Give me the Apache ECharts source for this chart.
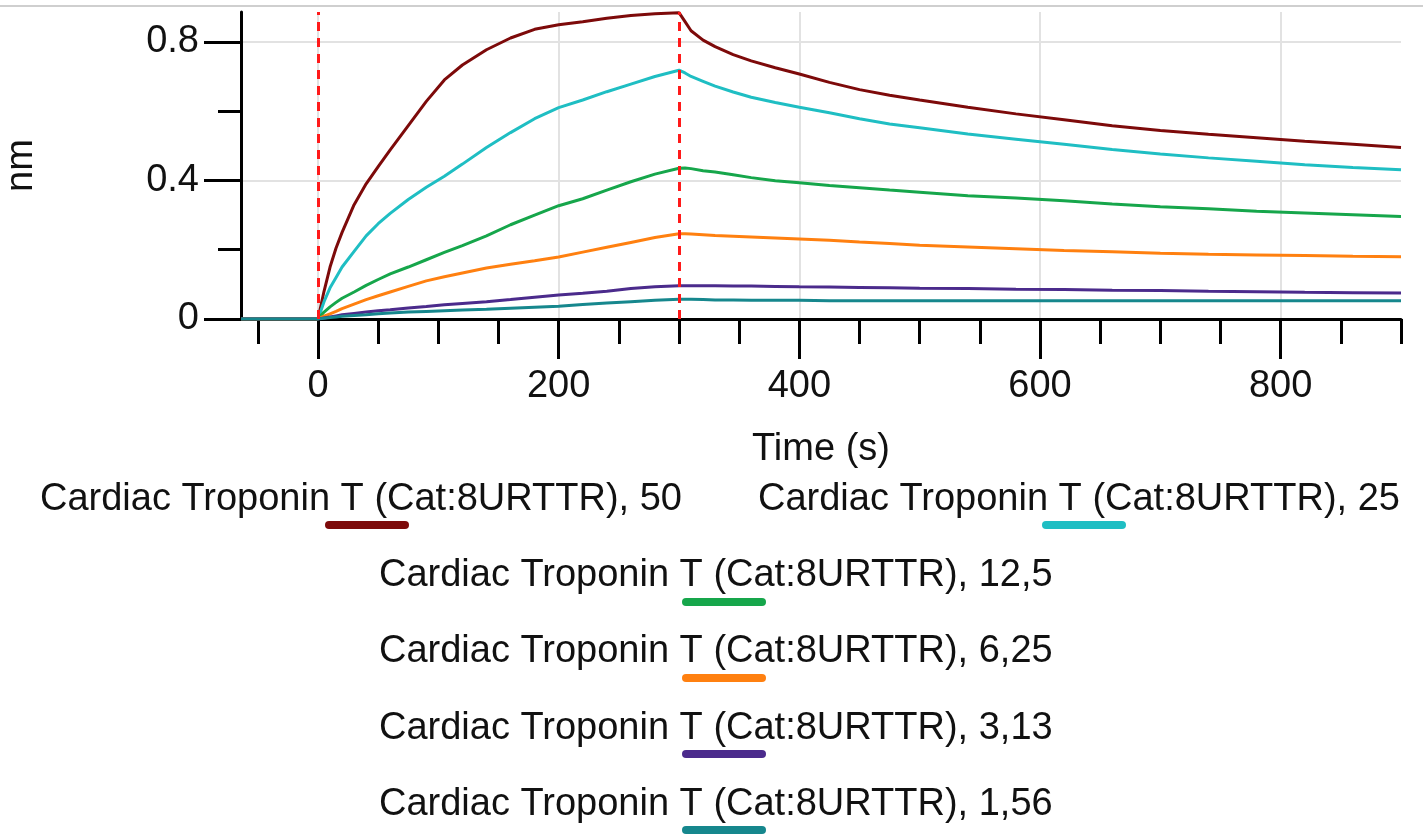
<!DOCTYPE html>
<html>
<head>
<meta charset="utf-8">
<script src="https://cdn.jsdelivr.net/npm/echarts@6/dist/echarts.min.js"></script>
<style>
html,body{margin:0;padding:0;background:#fff;}
#chart{width:1423px;height:834px;}
</style>
</head>
<body>
<div id="chart"></div>
<script>
// ---- data ----
const times = [-64, -30, 0, 5, 10, 15, 20, 30, 40, 50, 60, 75, 90, 105, 120, 140, 160, 180, 200, 220, 240, 260, 280, 300,
  305, 310, 320, 330, 345, 360, 380, 400, 425, 450, 475, 500, 540, 580, 620, 660, 700, 740, 780, 820, 860, 900];

const resp50 = [0, 0, 0, 0.08, 0.15, 0.205, 0.25, 0.33, 0.39, 0.44, 0.488, 0.558, 0.628, 0.69, 0.733, 0.777, 0.811, 0.836, 0.849, 0.858, 0.868, 0.876, 0.881, 0.884,
  0.858, 0.832, 0.805, 0.786, 0.763, 0.745, 0.725, 0.707, 0.683, 0.662, 0.646, 0.632, 0.611, 0.592, 0.575, 0.558, 0.544, 0.533, 0.523, 0.513, 0.504, 0.495];

const resp25 = [0, 0, 0, 0.05, 0.09, 0.12, 0.15, 0.195, 0.24, 0.275, 0.305, 0.345, 0.38, 0.412, 0.447, 0.495, 0.538, 0.578, 0.61, 0.632, 0.656, 0.678, 0.70, 0.718,
  0.71, 0.70, 0.686, 0.672, 0.655, 0.64, 0.625, 0.611, 0.595, 0.578, 0.563, 0.552, 0.534, 0.519, 0.504, 0.489, 0.476, 0.465, 0.455, 0.445, 0.437, 0.431];

const resp12_5 = [0, 0, 0, 0.02, 0.035, 0.048, 0.06, 0.078, 0.097, 0.114, 0.13, 0.15, 0.171, 0.192, 0.212, 0.24, 0.272, 0.30, 0.327, 0.347, 0.372, 0.396, 0.418, 0.435,
  0.436, 0.434, 0.428, 0.424, 0.416, 0.408, 0.399, 0.393, 0.385, 0.379, 0.372, 0.366, 0.356, 0.349, 0.341, 0.332, 0.324, 0.318, 0.311, 0.306, 0.301, 0.296];

const resp6_25 = [0, 0, 0, 0.008, 0.015, 0.022, 0.03, 0.043, 0.056, 0.067, 0.078, 0.094, 0.11, 0.122, 0.133, 0.147, 0.158, 0.168, 0.179, 0.193, 0.207, 0.221, 0.235, 0.246,
  0.246, 0.245, 0.243, 0.241, 0.239, 0.237, 0.234, 0.231, 0.227, 0.222, 0.218, 0.213, 0.208, 0.203, 0.198, 0.194, 0.19, 0.187, 0.185, 0.183, 0.181, 0.18];

const resp3_13 = [0, 0, 0, 0.003, 0.006, 0.009, 0.012, 0.016, 0.02, 0.024, 0.027, 0.032, 0.036, 0.041, 0.045, 0.05, 0.056, 0.063, 0.069, 0.074, 0.08, 0.088, 0.093, 0.096,
  0.096, 0.096, 0.096, 0.096, 0.095, 0.095, 0.094, 0.093, 0.092, 0.091, 0.09, 0.089, 0.088, 0.086, 0.085, 0.083, 0.082, 0.08, 0.079, 0.077, 0.076, 0.075];

const resp1_56 = [0, 0, 0, 0.002, 0.004, 0.006, 0.008, 0.01, 0.012, 0.015, 0.017, 0.02, 0.022, 0.024, 0.026, 0.028, 0.031, 0.034, 0.037, 0.042, 0.046, 0.05, 0.054, 0.057,
  0.057, 0.057, 0.056, 0.055, 0.055, 0.054, 0.054, 0.054, 0.053, 0.053, 0.053, 0.053, 0.053, 0.053, 0.053, 0.053, 0.053, 0.053, 0.053, 0.053, 0.053, 0.053];

const seriesNames = [
  'Cardiac Troponin T (Cat:8URTTR), 50',
  'Cardiac Troponin T (Cat:8URTTR), 25',
  'Cardiac Troponin T (Cat:8URTTR), 12,5',
  'Cardiac Troponin T (Cat:8URTTR), 6,25',
  'Cardiac Troponin T (Cat:8URTTR), 3,13',
  'Cardiac Troponin T (Cat:8URTTR), 1,56'
];
const seriesValues = [resp50, resp25, resp12_5, resp6_25, resp3_13, resp1_56];
const seriesColors = ['#7d0a0a', '#1fbec3', '#16a64b', '#ff8010', '#4b2b8c', '#16878d'];

const xMajorTicks = [0, 200, 400, 600, 800];
const xMinorTicks = [-50, 0, 50, 100, 150, 200, 250, 300, 350, 400, 450, 500, 550, 600, 650, 700, 750, 800, 850, 900];
const yMajorTicks = [0, 0.4, 0.8];
const yMinorTicks = [0.2, 0.6];
const eventTimes = [0, 300];

// ---- chart ----
const FONT = '"Liberation Sans", Arial, sans-serif';
const FS = 38;
const chart = echarts.init(document.getElementById('chart'), null, {renderer: 'canvas'});

const series = seriesValues.map((vals, i) => ({
  name: seriesNames[i],
  type: 'line',
  xAxisIndex: 0,
  yAxisIndex: 0,
  data: times.map((t, k) => [t, vals[k]]),
  showSymbol: false,
  symbol: 'none',
  lineStyle: {color: seriesColors[i], width: 3},
  itemStyle: {color: seriesColors[i]},
  z: 3
}));
series.push({
  type: 'line',
  data: [],
  xAxisIndex: 0,
  yAxisIndex: 0,
  z: 5,
  markLine: {
    silent: true,
    symbol: ['none', 'none'],
    label: {show: false},
    lineStyle: {color: '#ff1a1a', type: [9, 7], width: 3},
    data: eventTimes.map(t => ({xAxis: t}))
  }
});

// Legend drawn below the plot: text with a colour swatch under it
const legendLayout = [
  {x: 40, y: 481, sx: 325, sy: 525},
  {x: 758, y: 481, sx: 1042, sy: 525},
  {x: 379, y: 557, sx: 682, sy: 602},
  {x: 379, y: 633, sx: 682, sy: 678},
  {x: 379, y: 710, sx: 682, sy: 754},
  {x: 379, y: 786, sx: 682, sy: 830}
];
const graphics = [
  {type: 'line', shape: {x1: 0, y1: 6, x2: 1423, y2: 6}, style: {stroke: '#cfcfcf', lineWidth: 2}, silent: true}
];
seriesNames.forEach((nm, i) => {
  const L = legendLayout[i];
  graphics.push({
    type: 'line', silent: true, z: 10,
    shape: {x1: L.sx + 4, y1: L.sy, x2: L.sx + 80, y2: L.sy},
    style: {stroke: seriesColors[i], lineWidth: 8, lineCap: 'round'}
  });
  graphics.push({
    type: 'text', silent: true, z: 11,
    x: L.x, y: L.y,
    style: {text: nm, font: FS + 'px ' + FONT, fill: '#111', textAlign: 'left', textVerticalAlign: 'top'}
  });
});

const axisText = {color: '#111', fontSize: FS, fontFamily: FONT};

chart.setOption({
  animation: false,
  backgroundColor: '#fff',
  grid: {left: 241, right: 22, top: 12, bottom: 515, containLabel: false, outerBoundsMode: 'none'},
  xAxis: [
    {
      type: 'value', min: -64, max: 900, position: 'bottom',
      name: 'Time (s)', nameLocation: 'middle', nameGap: 112,
      nameTextStyle: axisText,
      axisLine: {show: true, onZero: false, lineStyle: {color: '#000', width: 3}},
      axisTick: {show: true, inside: false, length: 40, customValues: xMajorTicks, lineStyle: {color: '#000', width: 3}},
      axisLabel: {show: true, customValues: xMajorTicks, margin: 49, ...axisText},
      splitLine: {show: true, lineStyle: {color: '#e2e2e2', width: 2}}
    },
    {
      type: 'value', min: -64, max: 900, position: 'bottom',
      axisLine: {show: false, onZero: false},
      axisTick: {show: true, inside: false, length: 25, customValues: xMinorTicks, lineStyle: {color: '#000', width: 3}},
      axisLabel: {show: false},
      splitLine: {show: false}
    }
  ],
  yAxis: [
    {
      type: 'value', min: 0, max: 0.886, position: 'left',
      name: 'nm', nameLocation: 'middle', nameGap: 200, nameRotate: 90,
      nameTextStyle: axisText,
      axisLine: {show: true, onZero: false, lineStyle: {color: '#000', width: 3}},
      axisTick: {show: true, inside: false, length: 37, customValues: yMajorTicks, lineStyle: {color: '#000', width: 3}},
      axisLabel: {show: true, customValues: yMajorTicks, margin: 42, ...axisText,
        formatter: v => (v === 0 ? '0' : String(v))},
      splitLine: {show: true, lineStyle: {color: '#e2e2e2', width: 2}}
    },
    {
      type: 'value', min: 0, max: 0.886, position: 'left',
      axisLine: {show: false, onZero: false},
      axisTick: {show: true, inside: false, length: 23, customValues: yMinorTicks, lineStyle: {color: '#000', width: 3}},
      axisLabel: {show: false},
      splitLine: {show: false}
    }
  ],
  series: series,
  graphic: graphics
});
</script>
</body>
</html>
